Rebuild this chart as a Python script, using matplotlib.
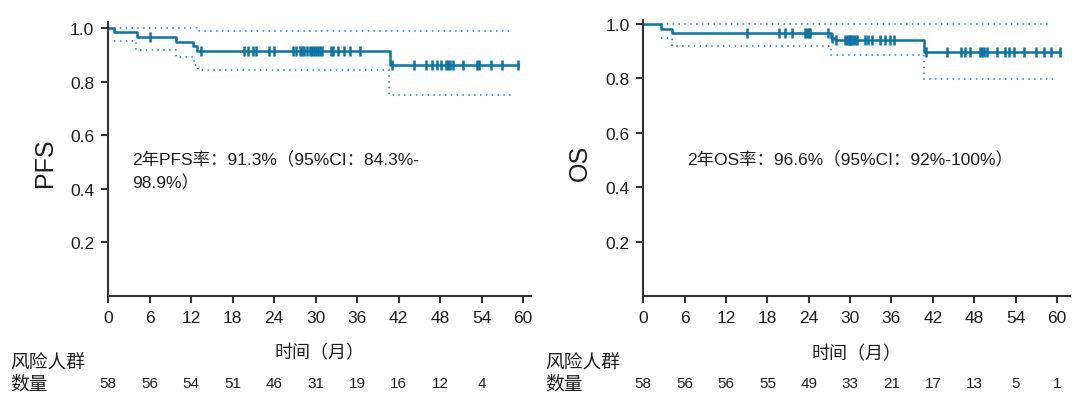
import numpy as np
import matplotlib
matplotlib.use('Agg')
from matplotlib import pyplot as plt

plt.rcParams['font.family'] = ['Liberation Sans', 'Noto Sans CJK SC', 'DejaVu Sans']

# PFS curve (months, survival)
pfs_t = [0, 0.9, 4.2, 9.9, 12.3, 12.8, 40.7]
pfs_s = [1.0, 0.983, 0.966, 0.948, 0.931, 0.914, 0.862]
pfs_end = 59.3
pfs_cens = [6.1, 13.4, 19.6, 20.2, 20.9, 21.4, 23.3, 24.0, 26.8, 27.2, 27.7, 28.0,
            28.4, 28.8, 29.2, 29.5, 29.8, 30.1, 30.4, 30.7, 31.0, 32.2, 32.5, 33.2,
            34.1, 35.0, 36.4, 41.1, 44.3, 46.0, 46.8, 47.5, 48.2, 48.9, 49.2, 49.5,
            49.8, 51.3, 53.3, 53.6, 55.4, 57.0, 59.3]
pfs_lo_t = [0.9, 4.0, 9.8, 12.5, 13.0, 40.6]
pfs_lo_s = [0.950, 0.919, 0.892, 0.860, 0.842, 0.751]
pfs_lo_end = 58.3
pfs_hi_t = [0.9, 12.8]
pfs_hi_s = [1.0, 0.989]
pfs_hi_end = 58.4
pfs_risk = [58, 56, 54, 51, 46, 31, 19, 16, 12, 4]

# OS curve
os_t = [0, 2.6, 4.2, 27.3, 27.8, 40.7]
os_s = [1.0, 0.982, 0.966, 0.950, 0.943, 0.897]
os_end = 60.4
os_cens = [15.0, 19.7, 20.6, 21.6, 23.4, 23.7, 24.0, 24.2, 26.8, 27.4, 27.9,
           29.3, 29.5, 29.8, 30.0, 30.2, 30.4, 30.7, 31.0, 32.2, 32.6, 33.2,
           34.3, 35.1, 35.8, 36.4, 41.0, 44.1, 46.1, 46.7, 47.4, 48.8, 49.1,
           49.4, 49.8, 51.3, 52.4, 53.1, 53.8, 55.2, 57.0, 58.1, 59.2, 60.4]
os_lo_t = [2.6, 4.2, 27.3, 40.7]
os_lo_s = [0.949, 0.918, 0.885, 0.798]
os_lo_end = 59.5
os_hi_t = [2.6]
os_hi_s = [1.0]
os_hi_end = 59.3
os_risk = [58, 56, 56, 55, 49, 33, 21, 17, 13, 5, 1]

xticks = list(range(0, 61, 6))
yticks = [0.2, 0.4, 0.6, 0.8, 1.0]

LINE = '#0b73a3'
CI = '#4b9dc6'
INK = '#1e1e1e'


def step_xy(t, s, end):
    return list(t) + [end], list(s) + [s[-1]]


def at(t, s, x):
    i = np.searchsorted(t, x, side='right') - 1
    return np.array(s)[i]


def km_panel(ax, t, s, end, cens, lo, hi, ymax, xmax):
    x, y = step_xy(lo[0], lo[1], lo[2])
    ax.step(x, y, where='post', color=CI, lw=1.5, linestyle=(0, (0.7, 2.1)))
    x, y = step_xy(hi[0], hi[1], hi[2])
    ax.step(x, y, where='post', color=CI, lw=1.5, linestyle=(0, (0.7, 2.1)))
    x, y = step_xy(t, s, end)
    ax.step(x, y, where='post', color=LINE, lw=1.8)
    ax.plot(cens, at(t, s, cens), linestyle='none', marker='|', ms=6.5, mew=1.8,
            color=LINE)
    ax.set_xlim(0, xmax)
    ax.set_ylim(0, ymax)
    ax.set_xticks(xticks)
    ax.set_yticks(yticks)
    ax.set_yticklabels(['%.1f' % v for v in yticks])
    for sp in ['top', 'right']:
        ax.spines[sp].set_visible(False)
    for sp in ['left', 'bottom']:
        ax.spines[sp].set_color('#333333')
        ax.spines[sp].set_linewidth(1.5)
    ax.tick_params(length=5, width=1.5, color='#333333', labelsize=12.5,
                   labelcolor=INK, pad=5)


fig = plt.figure(figsize=(10.8, 4.06), dpi=100)
W, H = 1080.0, 406.0

ax1 = fig.add_axes([108 / W, (H - 297) / H, (530.7 - 108) / W, (297 - 23.3) / H])
km_panel(ax1, pfs_t, pfs_s, pfs_end, pfs_cens,
         (pfs_lo_t, pfs_lo_s, pfs_lo_end), (pfs_hi_t, pfs_hi_s, pfs_hi_end),
         1.021, 61.1)

ax2 = fig.add_axes([643.3 / W, (H - 297) / H, (1070 - 643.3) / W, (297 - 20.7) / H])
km_panel(ax2, os_t, os_s, os_end, os_cens,
         (os_lo_t, os_lo_s, os_lo_end), (os_hi_t, os_hi_s, os_hi_end),
         1.016, 61.9)

# y labels
fig.text(45 / W, 1 - 163 / H, 'PFS', rotation=90, ha='center', va='center',
         fontsize=18, color=INK)
fig.text(580 / W, 1 - 163 / H, 'OS', rotation=90, ha='center', va='center',
         fontsize=18, color=INK)

# annotations
fig.text(132 / W, 1 - 160 / H, '2年PFS率：91.3%（95%CI：84.3%-', ha='left',
         va='center', fontsize=12.5, color=INK)
fig.text(132 / W, 1 - 183 / H, '98.9%）', ha='left', va='center', fontsize=12.5,
         color=INK)
fig.text(687 / W, 1 - 160 / H, '2年OS率：96.6%（95%CI：92%-100%）', ha='left',
         va='center', fontsize=12.5, color=INK)

# x labels
for ax in (ax1, ax2):
    ax.text(0.5, -57 / 274.0, '时间（月）', transform=ax.transAxes, ha='center',
            va='center', fontsize=13, color=INK)

# number at risk
for xl in (10, 545):
    fig.text(xl / W, 1 - 364 / H, '风险人群', ha='left', va='center',
             fontsize=13.5, color=INK)
    fig.text(xl / W, 1 - 385 / H, '数量', ha='left', va='center',
             fontsize=13.5, color=INK)

for ax, risk in ((ax1, pfs_risk), (ax2, os_risk)):
    for xv, n in zip(xticks, risk):
        x_disp = ax.transData.transform((xv, 0))[0]
        fig.text(x_disp / W, 1 - 384 / H, str(n), ha='center', va='center',
                 fontsize=11, color=INK)

fig.savefig('out.png', dpi=100)
